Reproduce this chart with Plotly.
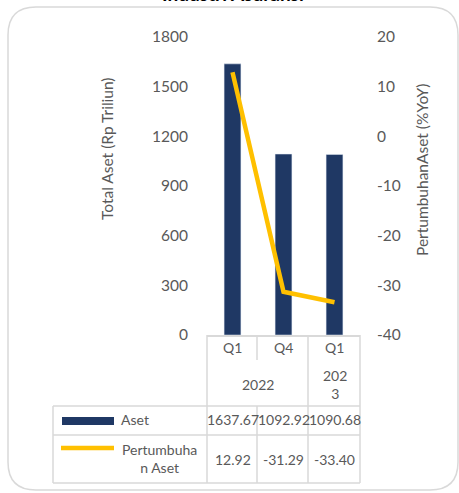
import plotly.graph_objects as go

# Data
quarters = ["Q1", "Q4", "Q1"]
years = ["2022", "2022", "2023"]
aset = [1637.67, 1092.92, 1090.68]
pertumbuhan = [12.92, -31.29, -33.40]
series_names = ["Aset", "Pertumbuhan Aset"]
title_text = "Industri Asuransi"
aset_ticks = [0, 300, 600, 900, 1200, 1500, 1800]
growth_ticks = [-40, -30, -20, -10, 0, 10, 20]

W, H = 459, 493
L, R, T, B = 207, 360, 37, 335  # plot area in pixels

NAVY = "#1F3864"
GOLD = "#FFC000"
GRID = "#D9D9D9"
TXT = "#595959"
FONT = "Lato"


def px(x):
    return (x - L) / (R - L)


def py(y):
    return (B - y) / (B - T)


xs = list(range(len(quarters)))

fig = go.Figure()
fig.add_trace(go.Bar(x=xs, y=aset, name=series_names[0], marker_color=NAVY,
                     width=0.33, yaxis="y"))
fig.add_trace(go.Scatter(x=xs, y=pertumbuhan, name=series_names[1], mode="lines",
                         line=dict(color=GOLD, width=4.5), yaxis="y2"))

shapes = []
annotations = []


def hline(x0, x1, y):
    shapes.append(dict(type="line", xref="paper", yref="paper", x0=px(x0), x1=px(x1),
                       y0=py(y), y1=py(y), line=dict(color=GRID, width=1.5)))


def vline(x, y0, y1):
    shapes.append(dict(type="line", xref="paper", yref="paper", x0=px(x), x1=px(x),
                       y0=py(y0), y1=py(y1), line=dict(color=GRID, width=1.5)))


def text(x, y, s, xref="paper", size=14, align="center", xanchor="center"):
    annotations.append(dict(x=x, y=py(y), xref=xref, yref="paper", text=s,
                            showarrow=False, align=align, xanchor=xanchor,
                            yanchor="middle",
                            font=dict(family=FONT, size=size, color=TXT)))


# Data table grid under the chart
cols = [207, 257, 308, 360]
for c in cols:
    vline(c, 335, 360)
for c in [207, 308, 360]:
    vline(c, 360, 406)
for c in cols:
    vline(c, 406, 483)
vline(53, 406, 483)
for y in [406, 435, 483]:
    hline(53, 360, y)

# Category labels
for i, q in enumerate(quarters):
    text(i, 347, q, xref="x")

# Year labels, grouped across consecutive quarters
i = 0
while i < len(years):
    j = i
    while j + 1 < len(years) and years[j + 1] == years[i]:
        j += 1
    yr = years[i]
    label = yr if j > i else yr[:3] + "<br>" + yr[3:]
    text((i + j) / 2, 384, label, xref="x")
    i = j + 1

# Row values
for i, v in enumerate(aset):
    text(i, 420, f"{v:.2f}", xref="x")
for i, v in enumerate(pertumbuhan):
    text(i, 459, f"{v:.2f}", xref="x")

# Legend keys in the table
shapes.append(dict(type="rect", xref="paper", yref="paper", x0=px(62), x1=px(114),
                   y0=py(425), y1=py(417), fillcolor=NAVY, line=dict(width=0)))
shapes.append(dict(type="line", xref="paper", yref="paper", x0=px(61), x1=px(114),
                   y0=py(448), y1=py(448), line=dict(color=GOLD, width=4.5)))
text(px(119), 420, series_names[0], align="left", xanchor="left")
name2 = series_names[1]
text(px(159), 458, name2[:10] + "<br>" + name2[10:])

# Rounded outer frame
x0, x1, y0, y1, r = 8, 458, 7, 490, 28
rx = r / (R - L)
ry = r / (B - T)
X0, X1, Y0, Y1 = px(x0), px(x1), py(y0), py(y1)
path = (f"M {X0 + rx},{Y0} L {X1 - rx},{Y0} Q {X1},{Y0} {X1},{Y0 - ry} "
        f"L {X1},{Y1 + ry} Q {X1},{Y1} {X1 - rx},{Y1} "
        f"L {X0 + rx},{Y1} Q {X0},{Y1} {X0},{Y1 + ry} "
        f"L {X0},{Y0 - ry} Q {X0},{Y0} {X0 + rx},{Y0} Z")
shapes.append(dict(type="path", xref="paper", yref="paper", path=path,
                   line=dict(color=GRID, width=1.5), layer="below"))

# Axis titles
annotations.append(dict(x=px(107), y=py(149), xref="paper", yref="paper",
                        xanchor="center", yanchor="middle",
                        text="Total Aset (Rp Triliun)", textangle=-90, showarrow=False,
                        font=dict(family=FONT, size=15.5, color=TXT)))
annotations.append(dict(x=px(422), y=py(170), xref="paper", yref="paper",
                        xanchor="center", yanchor="middle",
                        text="PertumbuhanAset (%YoY)", textangle=-90, showarrow=False,
                        font=dict(family=FONT, size=15.5, color=TXT)))

# Title
annotations.append(dict(x=px(233), y=py(7), xref="paper", yref="paper",
                        text="<b>" + title_text + "</b>", showarrow=False,
                        yanchor="bottom", xanchor="center",
                        font=dict(family=FONT, size=19, color="#000000")))

fig.update_layout(
    width=W, height=H,
    margin=dict(l=L, r=W - R, t=T, b=H - B, pad=0),
    paper_bgcolor="white", plot_bgcolor="white",
    showlegend=False,
    font=dict(family=FONT, size=15, color=TXT),
    xaxis=dict(range=[-0.5, 2.5], showticklabels=False, showgrid=False,
               zeroline=False, showline=True, linecolor=GRID, linewidth=1.5,
               fixedrange=True),
    yaxis=dict(range=[0, 1800], tickvals=aset_ticks,
               ticktext=[str(t) for t in aset_ticks],
               showgrid=False, zeroline=False, showline=False, ticks="",
               ticklabelstandoff=18,
               tickfont=dict(family=FONT, size=15.5, color=TXT)),
    yaxis2=dict(range=[-40, 20], tickvals=growth_ticks,
                ticktext=[str(t) for t in growth_ticks],
                overlaying="y", side="right",
                showgrid=False, zeroline=False, showline=False, ticks="",
                ticklabelstandoff=16,
                tickfont=dict(family=FONT, size=15.5, color=TXT)),
    shapes=shapes,
    annotations=annotations,
)

fig.write_html("out.html")
